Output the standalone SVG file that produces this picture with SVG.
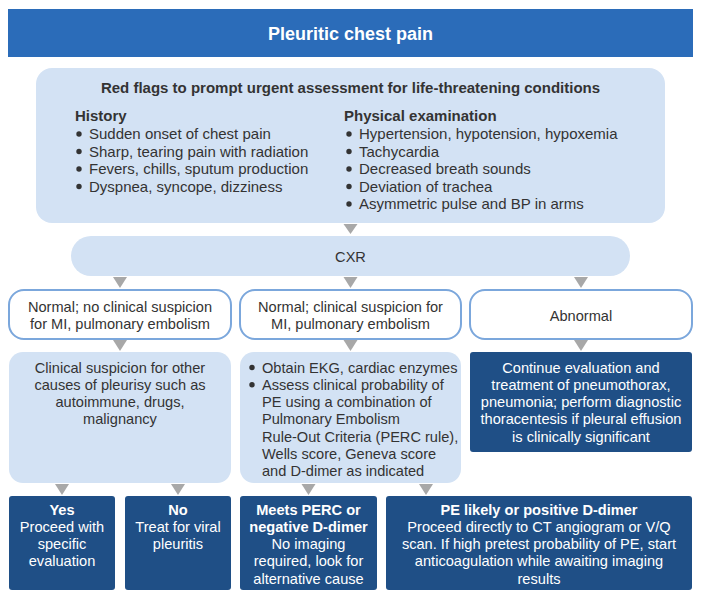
<svg xmlns="http://www.w3.org/2000/svg" width="701" height="600" viewBox="0 0 701 600">
<style>
text{font-family:"Liberation Sans",Arial,sans-serif;font-size:14.6px;fill:#333333}
.rf{font-size:15px}
.b{font-weight:bold}
.c{text-anchor:middle}
.w{fill:#ffffff}
.lt{fill:#d3e2f4}
.dk{fill:#1f4f86}
.ol{fill:#ffffff;stroke:#7ba7dc;stroke-width:2}
.tri{fill:#a8a8a8}
.dot{fill:#333333}
</style>
<rect width="701" height="600" fill="#ffffff"/>
<g id="title">
<rect x="8" y="9" width="685" height="48" fill="#2b6cb9"/>
<text x="350.5" y="39.5" class="c b w" style="font-size:18px">Pleuritic chest pain</text>
</g>
<g id="redflags">
<rect x="36" y="68" width="629" height="155" rx="16" class="lt"/>
<text x="350.5" y="92.5" class="c b" style="font-size:15px">Red flags to prompt urgent assessment for life-threatening conditions</text>
<text x="75" y="120.5" class="b rf">History</text>
<circle cx="79" cy="134" r="2.7" class="dot"/><text x="89" y="139" class="rf">Sudden onset of chest pain</text>
<circle cx="79" cy="151.5" r="2.7" class="dot"/><text x="89" y="156.5" class="rf">Sharp, tearing pain with radiation</text>
<circle cx="79" cy="169" r="2.7" class="dot"/><text x="89" y="174" class="rf">Fevers, chills, sputum production</text>
<circle cx="79" cy="186.5" r="2.7" class="dot"/><text x="89" y="191.5" class="rf">Dyspnea, syncope, dizziness</text>
<text x="344" y="120.5" class="b rf">Physical examination</text>
<circle cx="349" cy="134" r="2.7" class="dot"/><text x="359" y="139" class="rf">Hypertension, hypotension, hypoxemia</text>
<circle cx="349" cy="151.5" r="2.7" class="dot"/><text x="359" y="156.5" class="rf">Tachycardia</text>
<circle cx="349" cy="169" r="2.7" class="dot"/><text x="359" y="174" class="rf">Decreased breath sounds</text>
<circle cx="349" cy="186.5" r="2.7" class="dot"/><text x="359" y="191.5" class="rf">Deviation of trachea</text>
<circle cx="349" cy="204" r="2.7" class="dot"/><text x="359" y="209" class="rf">Asymmetric pulse and BP in arms</text>
</g>
<g id="cxr">
<rect x="71" y="236" width="559" height="40" rx="20" class="lt"/>
<text x="350.5" y="261.5" class="c">CXR</text>
</g>
<g id="normal-no">
<rect x="9" y="290" width="222" height="49" rx="15" class="ol"/>
<text x="120" y="312" class="c">Normal; no clinical suspicion</text>
<text x="120" y="329" class="c">for MI, pulmonary embolism</text>
</g>
<g id="normal-yes">
<rect x="240" y="290" width="221" height="49" rx="15" class="ol"/>
<text x="350.5" y="312" class="c">Normal; clinical suspicion for</text>
<text x="350.5" y="329" class="c">MI, pulmonary embolism</text>
</g>
<g id="abnormal">
<rect x="470" y="290" width="222" height="49" rx="15" class="ol"/>
<text x="581" y="320.5" class="c">Abnormal</text>
</g>
<g id="other-causes">
<rect x="9" y="352" width="222" height="131" rx="14" class="lt"/>
<text x="120" y="372.5" class="c">Clinical suspicion for other</text>
<text x="120" y="389.8" class="c">causes of pleurisy such as</text>
<text x="120" y="407.1" class="c">autoimmune, drugs,</text>
<text x="120" y="424.4" class="c">malignancy</text>
</g>
<g id="assess">
<rect x="240" y="352" width="221" height="131" rx="14" class="lt"/>
<circle cx="252" cy="367.5" r="2.7" class="dot"/><text x="262" y="372.5">Obtain EKG, cardiac enzymes</text>
<circle cx="252" cy="384.8" r="2.7" class="dot"/><text x="262" y="389.8">Assess clinical probability of</text>
<text x="262" y="407.1">PE using a combination of</text>
<text x="262" y="424.4">Pulmonary Embolism</text>
<text x="262" y="441.7">Rule-Out Criteria (PERC rule),</text>
<text x="262" y="459">Wells score, Geneva score</text>
<text x="262" y="476.3">and D-dimer as indicated</text>
</g>
<g id="continue">
<rect x="470" y="352" width="222" height="100" rx="3" class="dk"/>
<text x="581" y="372.5" class="c w">Continue evaluation and</text>
<text x="581" y="389.8" class="c w">treatment of pneumothorax,</text>
<text x="581" y="407.1" class="c w">pneumonia; perform diagnostic</text>
<text x="581" y="424.4" class="c w">thoracentesis if pleural effusion</text>
<text x="581" y="441.7" class="c w">is clinically significant</text>
</g>
<g id="yes">
<rect x="9" y="496" width="106" height="94" rx="3" class="dk"/>
<text x="62" y="514.5" class="c w b">Yes</text>
<text x="62" y="531.8" class="c w">Proceed with</text>
<text x="62" y="549.1" class="c w">specific</text>
<text x="62" y="566.4" class="c w">evaluation</text>
</g>
<g id="no">
<rect x="125" y="496" width="106" height="94" rx="3" class="dk"/>
<text x="178" y="514.5" class="c w b">No</text>
<text x="178" y="531.8" class="c w">Treat for viral</text>
<text x="178" y="549.1" class="c w">pleuritis</text>
</g>
<g id="perc">
<rect x="240" y="496" width="137" height="94" rx="3" class="dk"/>
<text x="308.5" y="514.5" class="c w b">Meets PERC or</text>
<text x="308.5" y="531.8" class="c w b">negative D-dimer</text>
<text x="308.5" y="549.1" class="c w">No imaging</text>
<text x="308.5" y="566.4" class="c w">required, look for</text>
<text x="308.5" y="583.7" class="c w">alternative cause</text>
</g>
<g id="pe-likely">
<rect x="386" y="496" width="306" height="94" rx="3" class="dk"/>
<text x="539" y="514.5" class="c w b">PE likely or positive D-dimer</text>
<text x="539" y="531.8" class="c w">Proceed directly to CT angiogram or V/Q</text>
<text x="539" y="549.1" class="c w">scan. If high pretest probability of PE, start</text>
<text x="539" y="566.4" class="c w">anticoagulation while awaiting imaging</text>
<text x="539" y="583.7" class="c w">results</text>
</g>
<g id="connectors">
<polygon points="343.5,224 357.5,224 350.5,234" class="tri"/>
<polygon points="113,277 127,277 120,288" class="tri"/>
<polygon points="343.5,277 357.5,277 350.5,288" class="tri"/>
<polygon points="574,277 588,277 581,288" class="tri"/>
<polygon points="113,340 127,340 120,351" class="tri"/>
<polygon points="343.5,340 357.5,340 350.5,351" class="tri"/>
<polygon points="574,340 588,340 581,351" class="tri"/>
<polygon points="55,484 69,484 62,495" class="tri"/>
<polygon points="171,484 185,484 178,495" class="tri"/>
<polygon points="301.5,484 315.5,484 308.5,495" class="tri"/>
<polygon points="419,484 433,484 426,495" class="tri"/>
</g>
</svg>
